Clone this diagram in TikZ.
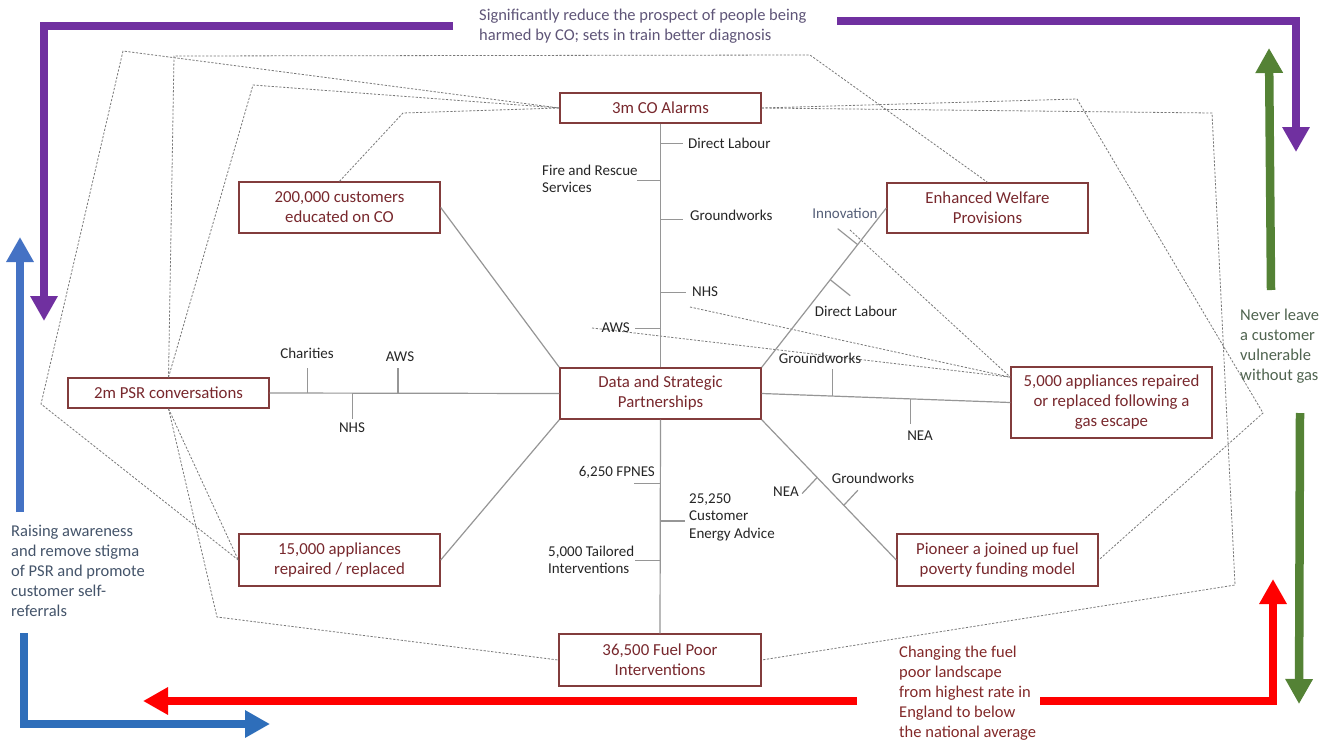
\documentclass[tikz,border=0pt]{standalone}
\usepackage{fontspec}
\setmainfont{Carlito}
\usetikzlibrary{arrows.meta,calc}
\definecolor{boxc}{RGB}{130,60,60}
\definecolor{boxtxt}{RGB}{120,40,45}
\definecolor{linkc}{RGB}{150,150,150}
\definecolor{dashc}{RGB}{120,120,120}
\definecolor{lbl}{RGB}{38,38,38}
\definecolor{purp}{RGB}{112,48,160}
\definecolor{grn}{RGB}{84,130,53}
\definecolor{blu}{RGB}{68,114,196}
\definecolor{blutwo}{RGB}{46,110,186}
\definecolor{rd}{RGB}{255,0,0}
\definecolor{purptxt}{RGB}{95,85,120}
\definecolor{grntxt}{RGB}{80,100,80}
\definecolor{blutxt}{RGB}{68,84,106}
\definecolor{rdtxt}{RGB}{130,40,40}
\definecolor{innov}{RGB}{85,95,120}
\begin{document}
\begin{tikzpicture}[x=1pt,y=-1pt,
  box/.style={draw=boxc, line width=1.4pt, text=boxtxt, align=center, inner sep=0pt,
              minimum width=201pt, font=\fontsize{16.8}{20}\selectfont},
  lab/.style={text=lbl, inner sep=0pt, font=\fontsize{15}{17.5}\selectfont},
  link/.style={draw=linkc, line width=1.2pt},
  dsh/.style={draw=dashc, line width=0.8pt, dash pattern=on 2.2pt off 1.6pt},
  fat/.style={line width=8.5pt, line join=miter, -{Triangle[length=25pt,width=26pt]}},
  note/.style={inner sep=0pt, align=left, font=\fontsize{16.5}{20}\selectfont},
]
\useasboundingbox (0,0) rectangle (1335,742);
\fill[white] (0,0) rectangle (1335,742);

% ---------- boxes ----------
\node[box, minimum height=30pt] (co)   at (660.5,108)   {3m CO Alarms};
\node[box, minimum height=51pt] (cust) at (339.5,207.5) {200,000 customers\\educated on CO};
\node[box, minimum height=50pt] (ewp)  at (987.5,208)   {Enhanced Welfare\\Provisions};
\node[box, minimum height=30pt] (psr)  at (168.5,393)   {2m PSR conversations};
\node[box, minimum height=51pt] (dsp)  at (660.5,393.5) {Data and Strategic\\Partnerships};
\node[box, minimum height=71pt] (app5) at (1111.5,402.5){5,000 appliances repaired\\or replaced following a\\gas escape};
\node[box, minimum height=52pt] (app15) at (339.5,560)  {15,000 appliances\\repaired / replaced};
\node[box, minimum height=52pt] (pion) at (997.5,560)   {Pioneer a joined up fuel\\poverty funding model};
\node[box, minimum height=52pt, minimum width=202pt] (fp) at (660,660) {36,500 Fuel Poor\\Interventions};

% ---------- dashed links ----------
\coordinate (a1) at (41,404);
\coordinate (a2) at (123,51);
\coordinate (b1) at (174,56);
\coordinate (b2) at (810,55);
\coordinate (c1) at (253,85);
\coordinate (d1) at (403,113);
\coordinate (e1) at (1077,99);
\coordinate (e2) at (1263,413);
\coordinate (f1) at (1212,113);
\coordinate (f2) at (1235,585);
\coordinate (h1) at (217,617);
\coordinate (g1) at (850,230);
\coordinate (g2) at (690,307);
\coordinate (g3) at (592,328);
\coordinate (a5in) at ($(app5.north west)!0.15!(app5.south west)$);

\draw[dsh] (app15.west) -- (a1) -- (a2) -- (co.west);
\draw[dsh] (psr.north) -- (b1) -- (b2) -- (ewp.north);
\draw[dsh] (psr.north) -- (c1) -- (co.west);
\draw[dsh] (cust.north) -- (d1) -- (co.west);
\draw[dsh] (co.east) -- (e1) -- (e2) -- (pion.east);
\draw[dsh] (co.east) -- (f1) -- (f2) -- (fp.east);
\draw[dsh] (psr.south) -- (h1) -- (fp.west);
\draw[dsh] (psr.south) -- (app15.west);
\draw[dsh] (g1) -- (a5in);
\draw[dsh] (g2) -- (a5in);
\draw[dsh] (g3) -- (a5in);

% ---------- solid connectors ----------
\draw[link] (co.south) -- (dsp.north);
\draw[link] (psr.east) -- (dsp.west);
\draw[link] (cust.east) -- (dsp.north west);
\draw[link] (dsp.north east) -- (ewp.west);
\draw[link] (dsp.east) -- (app5.west);
\draw[link] (dsp.south east) -- (pion.west);
\draw[link] (dsp.south west) -- (app15.east);
\draw[link] (dsp.south) -- (fp.north);

% ticks: CO -> Data
\draw[link] ($(co.south)!0.082!(dsp.north)$) -- ++(22,0);
\draw[link] ($(co.south)!0.233!(dsp.north)$) -- ++(-24,0);
\draw[link] ($(co.south)!0.392!(dsp.north)$) -- ++(22,0);
\draw[link] ($(co.south)!0.694!(dsp.north)$) -- ++(25,0);
\draw[link] ($(co.south)!0.841!(dsp.north)$) -- ++(-26,0);
% ticks: PSR -> Data
\draw[link] ($(psr.east)!0.131!(dsp.west)$) -- ++(0,-25);
\draw[link] ($(psr.east)!0.285!(dsp.west)$) -- ++(0,26);
\draw[link] ($(psr.east)!0.443!(dsp.west)$) -- ++(0,-25);
% ticks: Data -> Enhanced Welfare
\draw[link] ($(dsp.north east)!0.77!(ewp.west)$) -- ++(-20,-16);
\draw[link] ($(dsp.north east)!0.55!(ewp.west)$) -- ++(20,16);
% ticks: Data -> 5,000
\draw[link] ($(dsp.east)!0.284!(app5.west)$) -- ++(0,-27);
\draw[link] ($(dsp.east)!0.60!(app5.west)$) -- ++(0,25);
% ticks: Data -> Pioneer
\draw[link] ($(dsp.south east)!0.412!(pion.west)$) -- ++(-15,16);
\draw[link] ($(dsp.south east)!0.61!(pion.west)$) -- ++(14,-15);
% ticks: Data -> Fuel Poor
\draw[link] ($(dsp.south)!0.298!(fp.north)$) -- ++(-26,0);
\draw[link] ($(dsp.south)!0.474!(fp.north)$) -- ++(25,0);
\draw[link] ($(dsp.south)!0.660!(fp.north)$) -- ++(-25,0);

% ---------- partner labels ----------
\node[lab, anchor=west] (l1) at (688,143) {Direct Labour};
\node[lab, anchor=west, align=left] (l2) at (542,179) {Fire and Rescue\\Services};
\node[lab, anchor=west] (l3) at (690,215) {Groundworks};
\node[lab, anchor=west] (l4) at (692,292) {NHS};
\node[lab, anchor=east] (l5) at (630,328) {AWS};
\node[lab] (l6) at (307,353) {Charities};
\node[lab] (l7) at (400,357) {AWS};
\node[lab] (l8) at (352,428) {NHS};
\node[lab, text=innov] (l9) at (845,213) {Innovation};
\node[lab] (l10) at (856,311) {Direct Labour};
\node[lab] (l11) at (820,358) {Groundworks};
\node[lab] (l12) at (920,436) {NEA};
\node[lab] (l13) at (786,492) {NEA};
\node[lab] (l14) at (873,478) {Groundworks};
\node[lab, anchor=east] (l15) at (655,472) {6,250 FPNES};
\node[lab, anchor=west, align=left] (l16) at (689,517) {25,250\\Customer\\Energy Advice};
\node[lab, anchor=west, align=left] (l17) at (548,560) {5,000 Tailored\\Interventions};

% ---------- thick arrows ----------
\coordinate (p1) at (453,26);  \coordinate (p2) at (44,26);   \coordinate (p3) at (44,321);
\coordinate (q1) at (837,21);  \coordinate (q2) at (1296,21); \coordinate (q3) at (1296,152);
\coordinate (gu1) at (1271,290); \coordinate (gu2) at (1269,48);
\coordinate (gd1) at (1300,413); \coordinate (gd2) at (1299,704);
\coordinate (bu1) at (20,512);   \coordinate (bu2) at (20,237);
\coordinate (bl1) at (24,633);   \coordinate (bl2) at (24,724); \coordinate (bl3) at (270,724);
\coordinate (rl1) at (857,701);  \coordinate (rl2) at (143,701);
\coordinate (rr1) at (1040,701); \coordinate (rr2) at (1273,701); \coordinate (rr3) at (1273,579);

\draw[fat, draw=purp] (p1) -- (p2) -- (p3);
\draw[fat, draw=purp] (q1) -- (q2) -- (q3);
\draw[fat, draw=grn] (gu1) -- (gu2);
\draw[fat, draw=grn] (gd1) -- (gd2);
\draw[fat, draw=blu] (bu1) -- (bu2);
\draw[fat, draw=blutwo] (bl1) -- (bl2) -- (bl3);
\draw[fat, draw=rd] (rl1) -- (rl2);
\draw[fat, draw=rd] (rr1) -- (rr2) -- (rr3);

% ---------- annotations ----------
\node[note, text=purptxt, anchor=west] (n1) at (479,26.5)
  {Significantly reduce the prospect of people being\\harmed by CO; sets in train better diagnosis};
\node[note, text=grntxt, anchor=west] (n2) at (1240,346.5)
  {Never leave\\a customer\\vulnerable\\without gas};
\node[note, text=blutxt, anchor=west] (n3) at (11,571)
  {Raising awareness\\and remove stigma\\of PSR and promote\\customer self-\\referrals};
\node[note, text=rdtxt, anchor=west] (n4) at (899,693)
  {Changing the fuel\\poor landscape\\from highest rate in\\England to below\\the national average};
\end{tikzpicture}
\end{document}
